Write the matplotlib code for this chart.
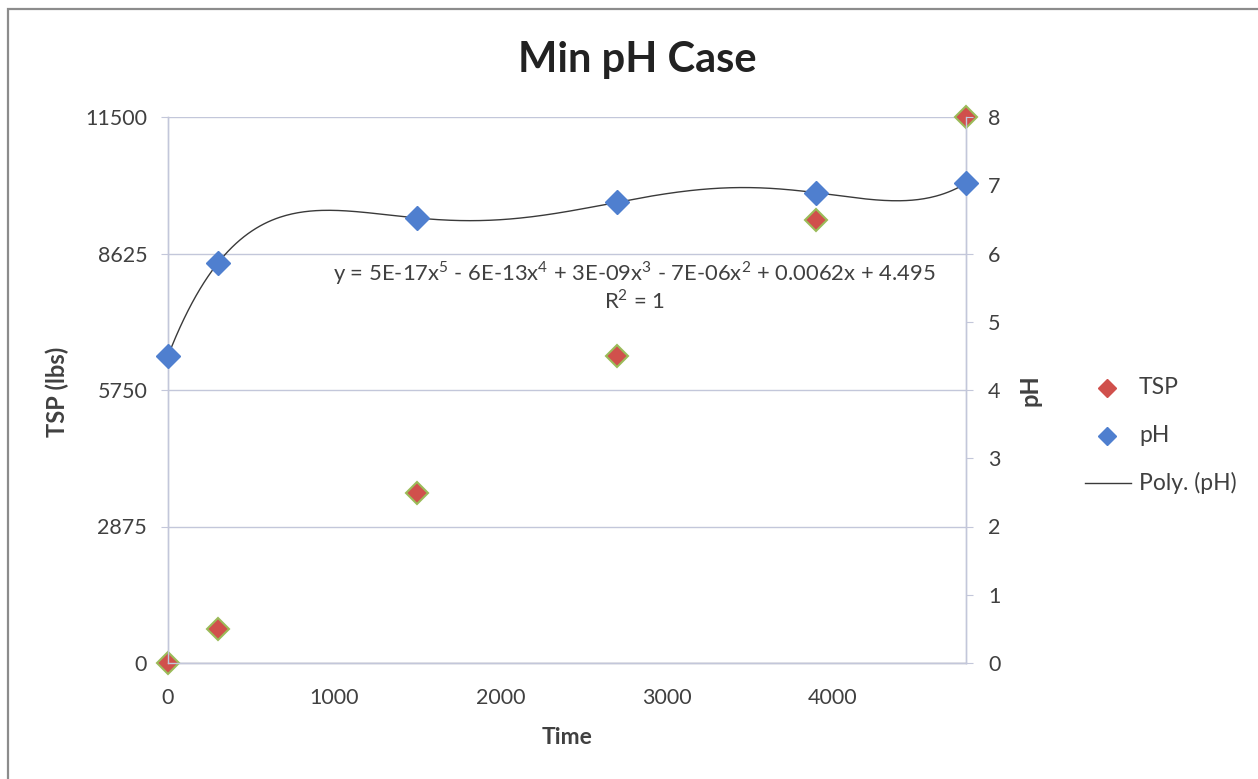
import numpy as np
import matplotlib
matplotlib.use("Agg")
import matplotlib.pyplot as plt
from matplotlib.lines import Line2D
from matplotlib.patches import Rectangle

# Data
time = [0, 300, 1500, 2700, 3900, 4800]
tsp_lbs = [0, 720, 3590, 6470, 9340, 11500]
ph = [4.5, 5.86, 6.52, 6.75, 6.89, 7.03]

left_ticks = [0, 2875, 5750, 8625, 11500]
right_ticks = [0, 1, 2, 3, 4, 5, 6, 7, 8]
x_ticks = [0, 1000, 2000, 3000, 4000]

title = "Min pH Case"
equation = ("y = 5E-17x$^5$ - 6E-13x$^4$ + 3E-09x$^3$ - 7E-06x$^2$ "
            "+ 0.0062x + 4.495")
r2_text = "R$^2$ = 1"
legend_labels = ["TSP", "pH", "Poly. (pH)"]

plt.rcParams['font.family'] = ['Lato', 'DejaVu Sans']
plt.rcParams['mathtext.fontset'] = 'custom'
plt.rcParams['mathtext.rm'] = 'Lato'

TEXT = "#404040"
GRID = "#c3c7da"
RED = "#d0504c"
RED_EDGE = "#9bbb59"
BLUE = "#4f7fcf"
FIT = "#3a3a3a"

W, H = 1258, 779
fig = plt.figure(figsize=(W / 100, H / 100), dpi=100)
fig.patch.set_facecolor("white")


def fx(px):
    return px / W


def fy(py):
    return 1 - py / H


# chart frame
fig.patches.append(Rectangle((fx(8), -0.1), 1.2, fy(9) + 0.1,
                             transform=fig.transFigure, fill=False,
                             edgecolor="#8c8c8c", linewidth=1.6, zorder=0))

x0, x1, y0, y1 = 168, 966, 663, 117
ax = fig.add_axes([fx(x0), fy(y0), (x1 - x0) / W, (y0 - y1) / H])
ax2 = ax.twinx()

ax.set_xlim(0, 4800)
ax.set_ylim(0, 11500)
ax2.set_ylim(0, 8)

ax.set_yticks(left_ticks)
ax.set_yticklabels([str(v) for v in left_ticks])
ax2.set_yticks(right_ticks)
ax.set_xticks(x_ticks)

ax.grid(axis="y", color=GRID, linewidth=1.0)
ax.set_axisbelow(True)

for a in (ax, ax2):
    for s in a.spines.values():
        s.set_color(GRID)
        s.set_linewidth(1.0)
    a.spines["top"].set_visible(False)
ax.spines["bottom"].set_color("#b0b0b8")

TICK_FS = 15.5
ax.tick_params(axis="x", length=0, pad=18, labelsize=TICK_FS, labelcolor=TEXT)
ax.tick_params(axis="y", length=5, color=GRID, pad=10, labelsize=TICK_FS,
               labelcolor=TEXT)
ax2.tick_params(axis="y", length=5, color=GRID, pad=11, labelsize=TICK_FS,
                labelcolor=TEXT)

# fitted 5th-order polynomial through the pH readings
coef = np.polyfit(time, ph, 5)
tt = np.linspace(min(time), max(time), 400)
ax2.plot(tt, np.polyval(coef, tt), color=FIT, linewidth=1.0, zorder=3)

ax.plot(time, tsp_lbs, linestyle="none", marker="D", markersize=11,
        markerfacecolor=RED, markeredgecolor=RED_EDGE, markeredgewidth=1.5,
        zorder=4, clip_on=False)
ax2.plot(time, ph, linestyle="none", marker="D", markersize=12,
         markerfacecolor=BLUE, markeredgecolor=BLUE, zorder=4, clip_on=False)

LAB_FS = 16.5
ax.set_xlabel("Time", fontsize=LAB_FS, fontweight="bold", color=TEXT)
ax.set_ylabel("TSP (lbs)", fontsize=LAB_FS + 0.5, fontweight="bold", color=TEXT)
ax2.set_ylabel("pH", fontsize=LAB_FS + 0.5, fontweight="bold", color=TEXT)
ax.xaxis.set_label_coords(0.5, (y0 - 737) / (y0 - y1))
ax.yaxis.set_label_coords((57 - x0) / (x1 - x0), (y0 - 392) / (y0 - y1))
ax2.yaxis.set_label_coords((1030 - x0) / (x1 - x0), 0.5)
ax.xaxis.label.set_va("center")
ax.yaxis.label.set_va("center")
ax2.yaxis.label.set_va("center")

fig.text(fx(637), fy(60), title, ha="center", va="center",
         fontsize=30, fontweight="bold", color="#222222")

fig.text(fx(634), fy(273), equation, ha="center", va="center",
         fontsize=15.8, color=TEXT)
fig.text(fx(634), fy(301), r2_text, ha="center", va="center",
         fontsize=15.8, color=TEXT)

# legend, placed to the right of the plot area
LEG_FS = 16.5
leg_rows = [388, 436, 483]
fig.add_artist(Line2D([fx(1107)], [fy(leg_rows[0])], linestyle="none",
                      marker="D", markersize=9, markerfacecolor=RED,
                      markeredgecolor=RED, transform=fig.transFigure))
fig.add_artist(Line2D([fx(1107)], [fy(leg_rows[1])], linestyle="none",
                      marker="D", markersize=9, markerfacecolor=BLUE,
                      markeredgecolor=BLUE, transform=fig.transFigure))
fig.add_artist(Line2D([fx(1085), fx(1131)], [fy(leg_rows[2])] * 2,
                      color=FIT, linewidth=1.0, transform=fig.transFigure))
for label, row in zip(legend_labels, leg_rows):
    fig.text(fx(1139), fy(row), label, ha="left", va="center",
             fontsize=LEG_FS, color=TEXT)

fig.savefig("out.png", dpi=100, facecolor="white")
